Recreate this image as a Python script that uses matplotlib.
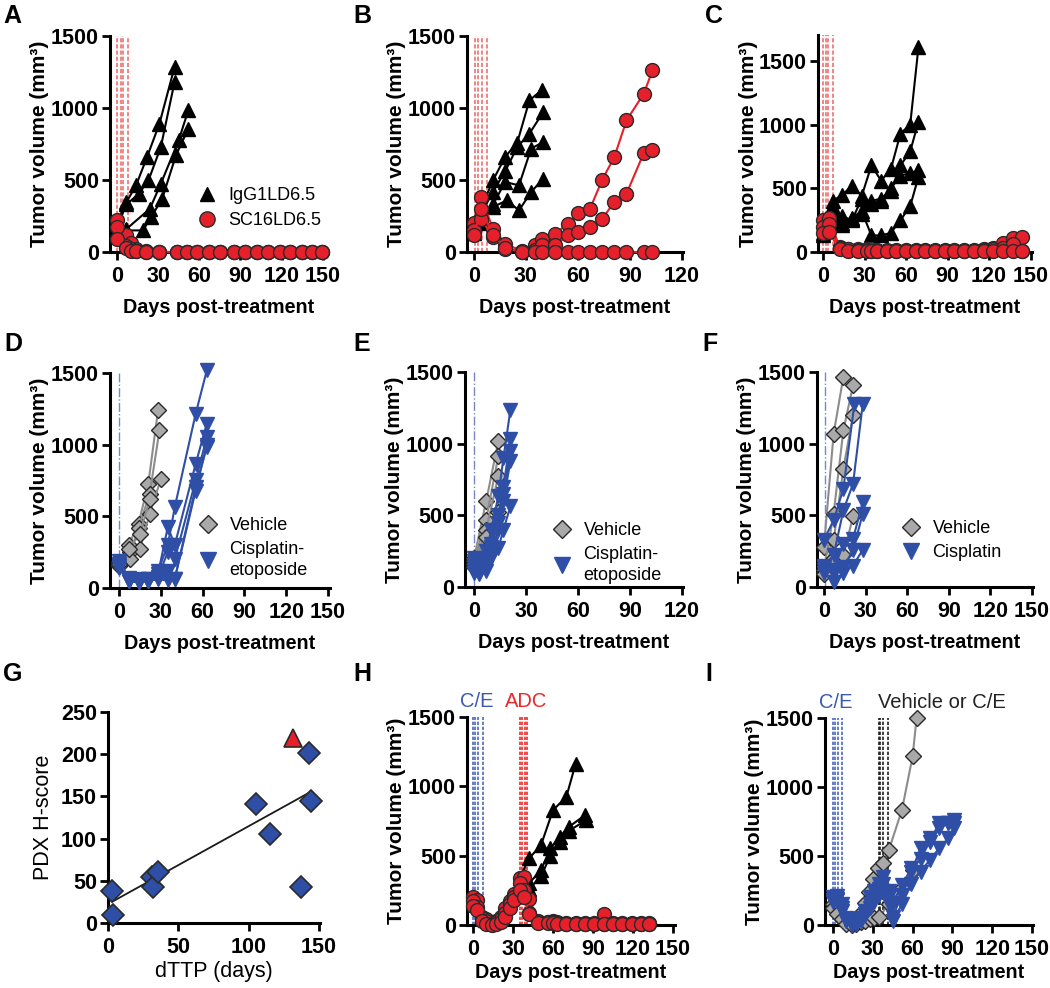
import matplotlib
matplotlib.use("Agg")
import matplotlib.pyplot as plt
import numpy as np
from matplotlib.lines import Line2D

plt.rcParams['font.family'] = ['Liberation Sans', 'DejaVu Sans']

# ---------------- data ----------------
# Panel A
A_black_days = [[0, 7, 14, 22, 31, 42], [0, 7, 16, 23, 32, 42], [0, 7, 19, 25, 33, 43, 52], [0, 7, 24, 32, 45, 52]]
A_black_vol = [[200, 347, 463, 660, 891, 1285], [180, 330, 405, 497, 729, 1180],
               [150, 150, 150, 243, 370, 671, 856], [160, 160, 300, 474, 775, 984]]
A_red_days = [0, 7, 10, 14, 21, 31, 44, 51, 58, 67, 75, 85, 93, 102, 110, 119, 126, 135, 142, 149]
A_red_vol = [[220, 116, 60, 23, 7, 0, 0, 0, 0, 0, 0, 0, 0, 0, 0, 0, 0, 0, 0, 0],
             [174, 40, 20, 10, 0, 0, 0, 0, 0, 0, 0, 0, 0, 0, 0, 0, 0, 0, 0, 0],
             [93, 30, 10, 5, 0, 0, 0, 0, 0, 0, 0, 0, 0, 0, 0, 0, 0, 0, 0, 0]]
A_dose_days = [0, 3, 4.5, 8]

# Panel B
B_black_days = [[0, 4, 11, 18, 25, 32, 39], [0, 4, 11, 18, 25, 32, 40], [0, 4, 11, 18, 26, 33, 40], [0, 4, 11, 19, 26, 33, 40]]
B_black_vol = [[200, 300, 498, 660, 760, 1053, 1123], [180, 260, 420, 560, 729, 822, 972],
               [150, 220, 330, 486, 463, 718, 764], [130, 200, 312, 359, 289, 417, 509]]
B_red_days = [0, 4, 11, 18, 28, 35, 39, 47, 54, 60, 67, 74, 81, 88, 98, 103]
B_red_vol = [[200, 382, 162, 58, 5, 46, 93, 127, 197, 271, 301, 502, 660, 914, 1100, 1262],
             [150, 231, 104, 23, 0, 12, 46, 46, 116, 139, 174, 231, 347, 405, 688, 706],
             [116, 300, 120, 30, 0, 0, 0, 0, 0, 0, 0, 0, 0, 0, 0, 0]]
B_dose_days = [0.5, 2.5, 4.5, 7.5]

# Panel C
C_black_days = [0, 7, 14, 21, 28, 35, 42, 49, 56, 63, 69]
C_black_vol = [[250, 400, 450, 520, 440, 680, 560, 650, 930, 1000, 1612],
               [200, 350, 230, 260, 300, 400, 420, 480, 680, 790, 1024],
               [150, 300, 280, 250, 420, 380, 400, 500, 600, 620, 640],
               [130, 250, 210, 270, 320, 130, 130, 150, 250, 360, 590]]
C_red_days = [0, 4, 12, 18, 25, 32, 35, 39, 46, 53, 60, 67, 74, 81, 88, 95, 102, 109, 116, 123, 130, 137, 144]
C_red_vol = [[250, 270, 40, 25, 20, 20, 20, 15, 15, 15, 15, 15, 15, 15, 15, 15, 15, 15, 20, 30, 70, 110, 120],
             [200, 220, 30, 20, 15, 15, 10, 10, 10, 10, 10, 10, 10, 10, 10, 10, 10, 10, 15, 20, 30, 60, 10],
             [150, 160, 20, 10, 5, 5, 5, 5, 5, 5, 5, 5, 5, 5, 5, 5, 5, 5, 5, 10, 10, 10, 5]]
C_dose_days = [0, 2, 3.5, 7]

# Panel D
D_veh_days = [[0, 7, 14, 21, 28], [0, 8, 14, 22, 29], [0, 8, 15, 22, 30], [0, 7, 15, 22]]
D_veh_vol = [[180, 302, 449, 728, 1240], [160, 250, 420, 658, 1100], [150, 205, 274, 519, 760], [170, 270, 379, 620]]
D_ce_days = [0, 7, 14, 21, 28, 35, 40, 55, 63]
D_ce_vol = [[190, 70, 60, 50, 120, 300, 565, 1216, 1519],
            [170, 60, 50, 60, 100, 426, 300, 867, 1147],
            [150, 50, 40, 60, 80, 250, 200, 751, 1053],
            [140, 50, 40, 50, 70, 120, 65, 705, 984],
            [160, 50, 40, 50, 60, 53, 65, 680, 1000]]
D_dose_days = [0]

# Panel E
E_veh_days = [0, 7, 14]
E_veh_vol = [[200, 598, 1016], [180, 470, 912], [160, 400, 772], [140, 350, 520]]
E_ce_days = [0, 3, 7, 10, 14, 17, 21]
E_ce_vol = [[200, 180, 250, 400, 633, 900, 1237], [180, 160, 200, 300, 500, 700, 1030],
            [150, 120, 150, 280, 450, 650, 947], [120, 100, 130, 250, 400, 600, 877],
            [100, 90, 110, 200, 270, 400, 563]]
E_dose_days = [0]

# Panel F
F_veh_days = [[0, 7, 14], [0, 7, 14, 21], [0, 7, 14, 21], [0, 7, 14, 21]]
F_veh_vol = [[280, 1070, 1465], [120, 512, 1093, 1407], [100, 326, 826, 1200], [90, 200, 221, 493]]
F_cis_days = [[0, 7, 14, 22], [0, 7, 14, 21, 28], [0, 7, 14, 21, 28], [0, 7, 14, 21, 28], [0, 7, 14, 21, 28]]
F_cis_vol = [[330, 465, 686, 1279], [150, 221, 535, 721, 1279], [140, 120, 300, 337, 593],
             [120, 100, 140, 256, 512], [100, 35, 100, 150, 260]]
F_dose_days = [1]

# Panel G
G_dttp = [3, 3.5, 31, 32, 35.5, 105, 115, 137, 143, 144]
G_hscore = [37.5, 10, 55, 43, 61, 141, 105, 43, 201, 144]
G_red_dttp = [131.5]
G_red_hscore = [219]

# Panel H
H_black_days = [[35, 42, 51, 60, 70, 77], [35, 42, 51, 58, 65, 72, 84], [35, 42, 51, 58, 65, 72, 85]]
H_black_vol = [[340, 480, 576, 828, 924, 1164], [300, 300, 396, 552, 636, 708, 792], [280, 260, 350, 500, 600, 680, 756]]
H_red_days = [0, 3, 7, 10, 14, 17, 21, 24, 28, 31, 35, 38, 42, 49, 56, 60, 63, 70, 77, 84, 91, 98, 105, 112, 119, 126, 132]
H_red_vol = [[200, 180, 60, 40, 20, 30, 60, 120, 170, 220, 340, 345, 190, 30, 25, 30, 20, 15, 15, 15, 15, 80, 15, 15, 15, 15, 15],
             [170, 130, 50, 30, 10, 20, 40, 90, 150, 200, 300, 250, 90, 20, 20, 20, 15, 10, 10, 10, 10, 10, 10, 10, 10, 10, 10],
             [140, 110, 30, 10, 0, 5, 20, 60, 120, 180, 250, 200, 80, 15, 15, 15, 10, 10, 10, 10, 10, 10, 10, 10, 10, 10, 10]]
H_ce_days = [0, 1.5, 3.75, 7.5]
H_adc_days = [35, 37, 39, 40.5]

# Panel I
I_veh_days = [[0, 3, 7, 10, 14, 17, 21, 24, 27, 30, 34, 38, 42, 52, 60, 63],
              [0, 3, 7, 10, 14, 17, 21, 24, 28, 31, 35, 42, 52, 60]]
I_veh_vol = [[150, 100, 50, 20, 10, 40, 90, 160, 240, 330, 410, 450, 540, 835, 1222, 1500],
             [120, 80, 40, 10, 0, 10, 20, 30, 40, 50, 60, 150, 266, 400]]
I_ce_days = [0, 3, 7, 10, 14, 17, 21, 24, 28, 31, 35, 38, 42, 45, 52, 59, 66, 73, 80, 87, 91]
I_ce_vol = [[200, 210, 150, 50, 10, 20, 50, 100, 200, 250, 300, 350, 250, 157, 290, 411, 480, 605, 738, 740, 762],
            [180, 190, 120, 40, 0, 10, 40, 80, 150, 200, 260, 300, 200, 60, 218, 387, 556, 629, 700, 738, 740],
            [170, 180, 100, 30, 0, 10, 30, 70, 120, 170, 220, 250, 150, 30, 150, 300, 387, 472, 556, 629, 700]]
I_ce_dose_days = [0, 1.8, 3.8, 6.8]
I_second_dose_days = [34.4, 35.7, 37.7, 41.2]

# ---------------- styles ----------------
W, H = 1050, 988
RED = '#e5202a'
BLUE = '#2f4fa6'
GRAY = '#a9a9a9'
EDGE = '#2a2a2a'
TICKFS = 15.5
LABFS = 14.2

fig = plt.figure(figsize=(W / 100, H / 100), dpi=100)


def make_ax(left, right, top, bottom, xlim, ylim, xticks, yticks):
    ax = fig.add_axes([left / W, 1 - bottom / H, (right - left) / W, (bottom - top) / H])
    ax.set_xlim(*xlim)
    ax.set_ylim(*ylim)
    ax.set_xticks(xticks)
    ax.set_yticks(yticks)
    for s in ['top', 'right']:
        ax.spines[s].set_visible(False)
    for s in ['left', 'bottom']:
        ax.spines[s].set_linewidth(2.2)
    ax.tick_params(direction='out', length=6, width=2, labelsize=TICKFS, pad=2)
    ax.tick_params(axis='x', pad=4)
    for lab in ax.get_xticklabels() + ax.get_yticklabels():
        lab.set_fontweight('bold')
    return ax


def tumor_labels(ax, xpad=8, ypad=1):
    ax.set_xlabel('Days post-treatment', fontsize=LABFS, fontweight='bold', labelpad=xpad)
    ax.set_ylabel('Tumor volume (mm³)', fontsize=LABFS + 0.8, fontweight='bold', labelpad=ypad)


def series(ax, days, vol, color, marker, mfc, ms, lw=1.5, mec=EDGE, z=3):
    ax.plot(days, vol, color=color, lw=lw, marker=marker, mfc=mfc, mec=mec, ms=ms,
            mew=1.0, clip_on=False, zorder=z)


def vlines(ax, days, color, ls=(0, (2.5, 1.2)), lw=1.2, top=1500, alpha=1.0):
    for d in days:
        ax.plot([d, d], [0, top], color=color, lw=lw, ls=ls, alpha=alpha, zorder=1)


def letter(x, y, s):
    fig.text(x / W, 1 - y / H, s, fontsize=18, ha='left', va='top', fontweight='semibold')


def legend(ax, handles, labels, x, y, spacing):
    leg = ax.legend(handles, labels, loc='upper left', bbox_to_anchor=(x / W, 1 - y / H),
                    bbox_transform=fig.transFigure, frameon=False, fontsize=13, handletextpad=0.6,
                    borderpad=0, borderaxespad=0, labelspacing=spacing, handlelength=1.2)
    for t in leg.get_texts():
        t.set_linespacing(1.3)
    return leg


TRI = '^'
CIR = 'o'
DIA = 'D'
DTRI = 'v'

# ---------------- Panel A ----------------
axA = make_ax(110, 327, 36, 252, (-5, 153), (0, 1500), [0, 30, 60, 90, 120, 150], [0, 500, 1000, 1500])
vlines(axA, A_dose_days, '#f07070')
for d, v in zip(A_black_days, A_black_vol):
    series(axA, d, v, 'black', TRI, 'black', 9.5, mec='black')
for v in A_red_vol:
    series(axA, A_red_days, v, RED, CIR, RED, 10, z=4)
tumor_labels(axA)
hA = [Line2D([], [], ls='none', marker=TRI, color='black', ms=10),
      Line2D([], [], ls='none', marker=CIR, mfc=RED, mec=EDGE, ms=11)]
legend(axA, hA, ['IgG1LD6.5', 'SC16LD6.5'], 196, 187, 0.45)

# ---------------- Panel B ----------------
axB = make_ax(467, 683, 36, 252, (-4, 120.6), (0, 1500), [0, 30, 60, 90, 120], [0, 500, 1000, 1500])
vlines(axB, B_dose_days, '#f07070')
for d, v in zip(B_black_days, B_black_vol):
    series(axB, d, v, 'black', TRI, 'black', 9.5, mec='black')
for v in B_red_vol:
    series(axB, B_red_days, v, RED, CIR, RED, 10, z=4)
tumor_labels(axB)

# ---------------- Panel C ----------------
axC = make_ax(818, 1032, 35.5, 252, (-3.6, 151), (0, 1700), [0, 30, 60, 90, 120, 150], [0, 500, 1000, 1500])
vlines(axC, C_dose_days, '#f07070', top=1700)
for v in C_black_vol:
    series(axC, C_black_days, v, 'black', TRI, 'black', 9.5, mec='black')
for v in C_red_vol:
    series(axC, C_red_days, v, RED, CIR, RED, 10, z=4)
tumor_labels(axC)

# ---------------- Panel D ----------------
axD = make_ax(110, 330, 373, 588, (-6.5, 151.4), (0, 1500), [0, 30, 60, 90, 120, 150], [0, 500, 1000, 1500])
vlines(axD, D_dose_days, '#7a86c8', ls='-.', lw=1.0)
for d, v in zip(D_veh_days, D_veh_vol):
    series(axD, d, v, '#8c8c8c', DIA, GRAY, 8)
for v in D_ce_vol:
    series(axD, D_ce_days, v, BLUE, DTRI, BLUE, 9.5, mec=BLUE, z=4)
tumor_labels(axD)
hD = [Line2D([], [], ls='none', marker=DIA, mfc=GRAY, mec=EDGE, ms=9),
      Line2D([], [], ls='none', marker=DTRI, color=BLUE, ms=11)]
legend(axD, hD, ['Vehicle', 'Cisplatin-\netoposide'], 197, 517, 0.4)

# ---------------- Panel E ----------------
axE = make_ax(465, 683, 372, 587, (-5.2, 120.6), (0, 1500), [0, 30, 60, 90, 120], [0, 500, 1000, 1500])
vlines(axE, E_dose_days, '#7a86c8', ls='-.', lw=1.0)
for v in E_veh_vol:
    series(axE, E_veh_days, v, '#8c8c8c', DIA, GRAY, 8)
for v in E_ce_vol:
    series(axE, E_ce_days, v, BLUE, DTRI, BLUE, 9.5, mec=BLUE, z=4)
tumor_labels(axE)
legend(axE, hD, ['Vehicle', 'Cisplatin-\netoposide'], 551, 522, 0.4)

# ---------------- Panel F ----------------
axF = make_ax(817, 1033, 372, 587, (-5, 150.7), (0, 1500), [0, 30, 60, 90, 120, 150], [0, 500, 1000, 1500])
vlines(axF, F_dose_days, '#7a86c8', ls='-.', lw=1.0)
for d, v in zip(F_veh_days, F_veh_vol):
    series(axF, d, v, '#8c8c8c', DIA, GRAY, 8)
for d, v in zip(F_cis_days, F_cis_vol):
    series(axF, d, v, BLUE, DTRI, BLUE, 9.5, mec=BLUE, z=4)
tumor_labels(axF)
legend(axF, hD, ['Vehicle', 'Cisplatin'], 900, 520, 0.4)

# ---------------- Panel G ----------------
axG = make_ax(108, 320, 712, 923, (0, 150.7), (0, 250), [0, 50, 100, 150], [0, 50, 100, 150, 200, 250])
gx = np.array(G_dttp + G_red_dttp)
gy = np.array(G_hscore + G_red_hscore)
slope, icpt = np.polyfit(gx, gy, 1)
xfit = np.array([min(G_dttp), max(G_dttp)])
axG.plot(xfit, slope * xfit + icpt, color='#1a1a1a', lw=1.3, zorder=2)
axG.plot(G_dttp, G_hscore, ls='none', marker=DIA, mfc=BLUE, mec=EDGE, ms=11, mew=1.2, clip_on=False, zorder=3)
axG.plot(G_red_dttp, G_red_hscore, ls='none', marker=TRI, mfc=RED, mec=EDGE, ms=13, mew=1.2, clip_on=False, zorder=3)
axG.set_xlabel('dTTP (days)', fontsize=15.5, labelpad=2)
axG.set_ylabel('PDX H-score', fontsize=15.5, labelpad=5)

# ---------------- Panel H ----------------
axH = make_ax(467, 675, 717, 925, (-4.5, 151.5), (0, 1500), [0, 30, 60, 90, 120, 150], [0, 500, 1000, 1500])
vlines(axH, H_ce_days, '#4a68c0', ls=(0, (2, 1)), lw=1.2)
vlines(axH, H_adc_days, '#ee2a2a', ls=(0, (2, 1)), lw=1.2)
for d, v in zip(H_black_days, H_black_vol):
    series(axH, d, v, 'black', TRI, 'black', 9.5, mec='black')
for v in H_red_vol:
    series(axH, H_red_days, v, RED, CIR, RED, 10, z=4)
tumor_labels(axH, xpad=2)
axH.text(3, 1.03, 'C/E', transform=axH.get_xaxis_transform(), color='#3a5ab0', fontsize=14.5, ha='center', va='bottom')
axH.text(40, 1.03, 'ADC', transform=axH.get_xaxis_transform(), color='#e8282a', fontsize=14.5, ha='center', va='bottom')

# ---------------- Panel I ----------------
axI = make_ax(825, 1033, 718, 925, (-6, 150.7), (0, 1500), [0, 30, 60, 90, 120, 150], [0, 500, 1000, 1500])
vlines(axI, I_ce_dose_days, '#4a68c0', ls=(0, (2, 1)), lw=1.2)
vlines(axI, I_second_dose_days, '#202020', ls=(0, (2, 1)), lw=1.2)
for d, v in zip(I_veh_days, I_veh_vol):
    series(axI, d, v, '#8c8c8c', DIA, GRAY, 8)
for v in I_ce_vol:
    series(axI, I_ce_days, v, BLUE, DTRI, BLUE, 9.5, mec=BLUE, z=4)
tumor_labels(axI, xpad=2)
axI.text(2, 1.03, 'C/E', transform=axI.get_xaxis_transform(), color='#3a5ab0', fontsize=14.5, ha='center', va='bottom')
axI.text(82, 1.03, 'Vehicle or C/E', transform=axI.get_xaxis_transform(), color='#222222', fontsize=14.5, ha='center', va='bottom')

# ---------------- panel letters ----------------
letter(3, 4, 'A')
letter(353, 4, 'B')
letter(705, 4, 'C')
letter(4, 332, 'D')
letter(353, 332, 'E')
letter(702, 332, 'F')
letter(3, 662, 'G')
letter(353, 662, 'H')
letter(705, 662, 'I')

fig.savefig('out.png', dpi=100)
